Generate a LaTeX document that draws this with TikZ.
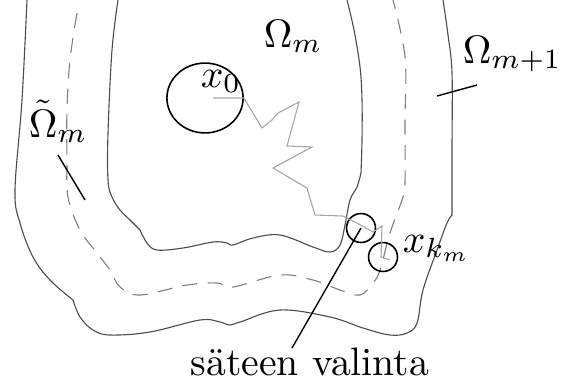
\documentclass[tikz,border=0pt]{standalone}
\usepackage{amsmath, amssymb}
\usetikzlibrary{calc, shapes.geometric}

\begin{document}
\begin{tikzpicture}[
    x=0.252pt, y=-0.252pt,
    region_line/.style={line width=0.28pt, color=black!70},
    dash_line/.style  ={line width=0.28pt, color=black!50, dash pattern=on 3.8pt off 2.6pt},
    walk_line/.style  ={line width=0.28pt, color=black!35},
    ball/.style       ={draw, line width=0.4pt, circle, inner sep=0pt, minimum size=7.3pt},
    pointer/.style    ={line width=0.35pt},
    lbl/.style        ={inner sep=0pt, anchor=base west}
]
\useasboundingbox (0,0) rectangle (561,387);

% Outer boundary (Omega_{m+1})
\draw[region_line]
    plot[smooth, tension=0.6] coordinates {(27,0) (22,100) (15,190) (20,223) (33,257) (50,280) (73,300)}
    -- plot[smooth, tension=0.6] coordinates {(73,300) (80,317) (93,330) (110,335) (150,332) (200,320) (220,322) (229,325) (240,322) (280,310) (330,317) (363,328) (390,335) (407,333) (417,323) (423,290) (437,250) (447,223) (452,215)}
    -- plot[smooth, tension=0.6] coordinates {(452,215) (452,150) (452,73) (448,35) (443,0)};

% Inner boundary (Omega_m)
\draw[region_line]
    plot[smooth, tension=0.6] coordinates {(118,0) (112,50) (108,133) (108,180) (112,197) (120,210) (130,220) (140,230)}
    -- plot[smooth, tension=0.6] coordinates {(140,230) (147,243) (157,250) (183,248) (213,242) (227,243) (233,245) (253,238) (280,235) (313,247) (330,252) (340,245) (345,225) (350,200) (357,187) (361,173)}
    -- plot[smooth, tension=0.6] coordinates {(361,173) (362,140) (362,100) (360,67) (354,30) (347,0)};

% Dashed boundary (tilde Omega_m)
\draw[dash_line] plot[smooth, tension=0.6] coordinates {(77,13) (70,60) (67,110) (67,160) (68,197) (80,230) (97,253) (110,270) (120,287) (140,295) (187,285) (217,283) (233,287) (280,275) (313,280) (340,290) (360,295) (373,283) (380,270) (390,233) (403,197) (405,183) (405,120) (405,57) (393,0)};

% Balls
\node[draw, ellipse, line width=0.4pt, inner sep=0pt, minimum width=19.2pt, minimum height=17.6pt] (b0) at (205,98) {};
\node[ball] (b1) at (361,228) {};
\node[ball] (b2) at (383,257) {};

% Walk
\draw[walk_line] ($(b0.center)+(8,0)$) -- (b0.east) -- (262,128) -- (272,120) -- (278,113) -- (299,102)
    -- (287,146) -- (312,147) -- (273,168) -- (307,188) -- (315,215) -- (343,216) -- (357,223)
    -- (373,232) -- (382,226) -- (381,257) -- (390,260);

% Labels
\node[lbl] (om)  at (263,47)  {$\Omega_m$};
\node[lbl] (omp) at (462,63)  {$\Omega_{m+1}$};
\node[lbl] (omt) at (28,137)  {$\tilde{\Omega}_m$};
\node[lbl] (lx0) at (200,87)  {$x_0$};
\node[lbl] (lxk) at (402,252) {$x_{k_m}$};
\node[lbl] (sv)  at (190,375) {säteen valinta};

% Pointers
\coordinate (omt_tip) at (85,200);
\coordinate (omp_tip) at (437,96);
\draw[pointer] ($(omt.base west)+(30,18)$) -- (omt_tip);
\draw[pointer] ($(omp.base west)+(15,22)$) -- (omp_tip);
\draw[pointer] ($(sv.base west)+(102,-27)$) -- (b1.center);

\end{tikzpicture}
\end{document}
